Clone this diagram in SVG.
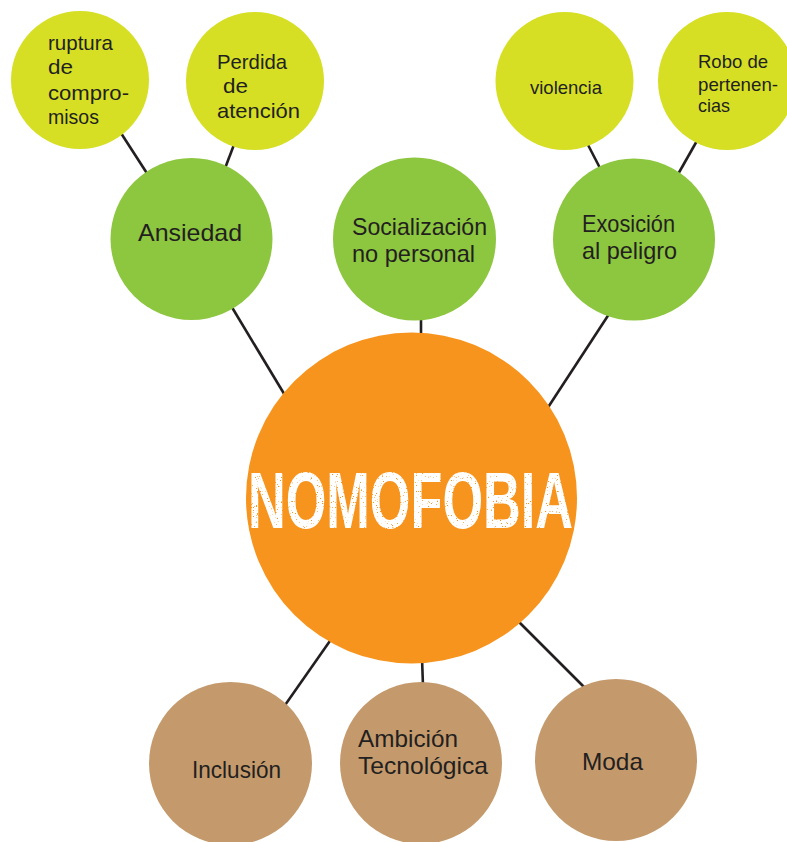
<svg xmlns="http://www.w3.org/2000/svg" width="787" height="842" viewBox="0 0 787 842">
<style>
.lime{fill:#D6DF23}
.green{fill:#8DC63F}
.orange{fill:#F7941D}
.tan{fill:#C49A6C}
.lbl{font-family:"Liberation Sans","DejaVu Sans",sans-serif;fill:#231F20}
.s{font-size:21px}
.xs{font-size:18.5px}
.m{font-size:24px}
.title{font-family:"Liberation Sans","DejaVu Sans",sans-serif;font-weight:bold;font-size:80px;fill:#FFFFFF}
.conn line{stroke:#231F20;stroke-width:2.6;fill:none}
</style>
<defs>
<filter id="grunge" x="-5%" y="-30%" width="110%" height="160%">
<feTurbulence type="fractalNoise" baseFrequency="0.8" numOctaves="2" seed="7" result="noise"/>
<feColorMatrix in="noise" type="matrix" values="0 0 0 0 0  0 0 0 0 0  0 0 0 0 0  -10 0 0 0 7.6" result="mask"/>
<feComposite in="SourceGraphic" in2="mask" operator="in"/>
</filter>
</defs>
<rect x="0" y="0" width="787" height="842" fill="#FFFFFF"/>
<g id="connectors" class="conn">
<line x1="119" y1="130" x2="150" y2="178"/>
<line x1="235" y1="142" x2="224" y2="171"/>
<line x1="230" y1="304" x2="286" y2="397"/>
<line x1="421" y1="316" x2="421" y2="338"/>
<line x1="586" y1="141" x2="601" y2="170"/>
<line x1="698" y1="139" x2="677" y2="176"/>
<line x1="611" y1="311" x2="545" y2="412"/>
<line x1="332" y1="638" x2="283" y2="708"/>
<line x1="422" y1="658" x2="423" y2="686"/>
<line x1="516" y1="619" x2="587" y2="690"/>
</g>
<g id="ruptura">
<circle class="lime" cx="80" cy="80" r="69"/>
<text class="lbl s"><tspan x="48" y="50" textLength="65" lengthAdjust="spacingAndGlyphs">ruptura</tspan><tspan x="48" y="74" textLength="25" lengthAdjust="spacingAndGlyphs">de</tspan><tspan x="48" y="100" textLength="81" lengthAdjust="spacingAndGlyphs">compro-</tspan><tspan x="48" y="124" textLength="51" lengthAdjust="spacingAndGlyphs">misos</tspan></text>
</g>
<g id="perdida">
<circle class="lime" cx="255" cy="81" r="69"/>
<text class="lbl s"><tspan x="217" y="69" textLength="70" lengthAdjust="spacingAndGlyphs">Perdida</tspan><tspan x="223" y="93" textLength="25" lengthAdjust="spacingAndGlyphs">de</tspan><tspan x="217" y="118" textLength="83" lengthAdjust="spacingAndGlyphs">atención</tspan></text>
</g>
<g id="violencia">
<circle class="lime" cx="564.5" cy="81" r="69"/>
<text class="lbl xs" x="530" y="94" textLength="72" lengthAdjust="spacingAndGlyphs">violencia</text>
</g>
<g id="robo">
<circle class="lime" cx="727" cy="81" r="69"/>
<text class="lbl xs"><tspan x="698" y="68" textLength="70" lengthAdjust="spacingAndGlyphs">Robo de</tspan><tspan x="698" y="91" textLength="80" lengthAdjust="spacingAndGlyphs">pertenen-</tspan><tspan x="698" y="112" textLength="32" lengthAdjust="spacingAndGlyphs">cias</tspan></text>
</g>
<g id="ansiedad">
<circle class="green" cx="191.5" cy="239" r="81"/>
<text class="lbl m" x="138" y="241" textLength="104" lengthAdjust="spacingAndGlyphs">Ansiedad</text>
</g>
<g id="socializacion">
<circle class="green" cx="414.5" cy="239" r="81.5"/>
<text class="lbl m"><tspan x="352" y="235" textLength="135" lengthAdjust="spacingAndGlyphs">Socialización</tspan><tspan x="352" y="262" textLength="123" lengthAdjust="spacingAndGlyphs">no personal</tspan></text>
</g>
<g id="exposicion">
<circle class="green" cx="634" cy="239.5" r="81"/>
<text class="lbl m"><tspan x="582" y="232" textLength="93" lengthAdjust="spacingAndGlyphs">Exosición</tspan><tspan x="582" y="259" textLength="95" lengthAdjust="spacingAndGlyphs">al peligro</tspan></text>
</g>
<g id="nomofobia">
<circle class="orange" cx="411.5" cy="498" r="165.5"/>
<text class="title" x="248" y="528" textLength="325" lengthAdjust="spacingAndGlyphs" filter="url(#grunge)">NOMOFOBIA</text>
</g>
<g id="inclusion">
<circle class="tan" cx="230.5" cy="763.5" r="81.5"/>
<text class="lbl m" x="192" y="778" textLength="89" lengthAdjust="spacingAndGlyphs">Inclusión</text>
</g>
<g id="ambicion">
<circle class="tan" cx="421" cy="763" r="81"/>
<text class="lbl m"><tspan x="358" y="747" textLength="100" lengthAdjust="spacingAndGlyphs">Ambición</tspan><tspan x="358" y="774" textLength="130" lengthAdjust="spacingAndGlyphs">Tecnológica</tspan></text>
</g>
<g id="moda">
<circle class="tan" cx="616" cy="760" r="81"/>
<text class="lbl m" x="582" y="770" textLength="61" lengthAdjust="spacingAndGlyphs">Moda</text>
</g>
</svg>
